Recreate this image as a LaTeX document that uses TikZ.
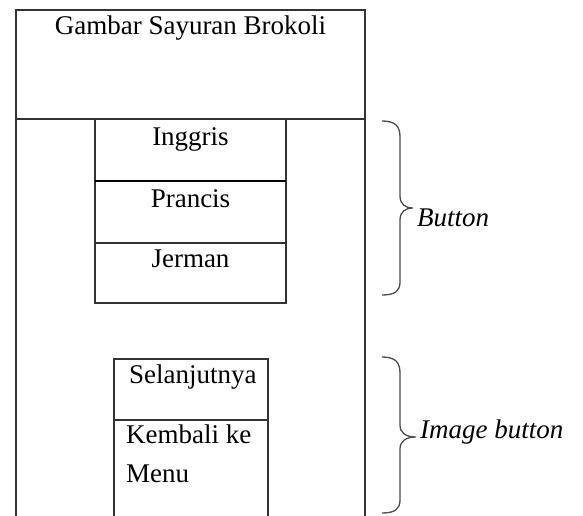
\documentclass[tikz,border=0pt]{standalone}
\usepackage{fontspec}
\setmainfont{Liberation Serif}
\begin{document}
\begin{tikzpicture}[x=1pt,y=-1pt,
  frame/.style={draw=black!80,line width=1.3pt},
  thickline/.style={draw=black,line width=2.4pt},
  brace/.style={draw=black!70,line width=1.3pt},
  lbl/.style={inner sep=0pt,font=\fontsize{27}{39}\selectfont},
  ilbl/.style={inner sep=0pt,font=\fontsize{27}{39}\selectfont\itshape}]
\useasboundingbox (0,0) rectangle (583,516);
% outer screen
\draw[frame] (16,530) -- (16,10) -- (365,10) -- (365,530);
\draw[frame] (16,119) -- (365,119);
% button box
\draw[frame] (95,119) rectangle (286,303);
\draw[thickline] (95,181) -- (286,181);
\draw[frame] (95,243) -- (286,243);
% image button box
\draw[frame] (114,530) -- (114,359) -- (268,359) -- (268,530);
\draw[frame] (114,420) -- (268,420);
% texts
\node[lbl,anchor=base] (judul) at (190.5,35) {Gambar Sayuran Brokoli};
\node[lbl,anchor=base] (ing) at (190.5,145) {Inggris};
\node[lbl,anchor=base] (pra) at (190.5,207) {Prancis};
\node[lbl,anchor=base] (jer) at (190.5,267) {Jerman};
\node[lbl,anchor=base west] (lanjut) at (129,383) {Selanjutnya};
\node[lbl,anchor=base west] (kembali) at (126,443) {Kembali ke};
\node[lbl,anchor=base west] (menu) at (126,482) {Menu};
% braces
\coordinate (b1t) at (382,121);
\coordinate (b1m) at (413,208);
\coordinate (b1b) at (382,295);
\draw[brace] (b1t) .. controls (395,121) and (400,126) .. (400,137) -- (400,196)
  .. controls (400,204) and (405,208) .. (b1m)
  .. controls (405,208) and (400,212) .. (400,220) -- (400,282)
  .. controls (400,291) and (395,295) .. (b1b);
\node[ilbl,anchor=base west] (btn) at (417,226) {Button};
\coordinate (b2t) at (382,357);
\coordinate (b2m) at (416,437);
\coordinate (b2b) at (382,513);
\draw[brace] (b2t) .. controls (395,357) and (400,362) .. (400,373) -- (400,425)
  .. controls (400,433) and (406,437) .. (b2m)
  .. controls (406,437) and (400,441) .. (400,449) -- (400,500)
  .. controls (400,509) and (395,513) .. (b2b);
\node[ilbl,anchor=base west] (imgbtn) at (420,438) {Image button};
\end{tikzpicture}
\end{document}
